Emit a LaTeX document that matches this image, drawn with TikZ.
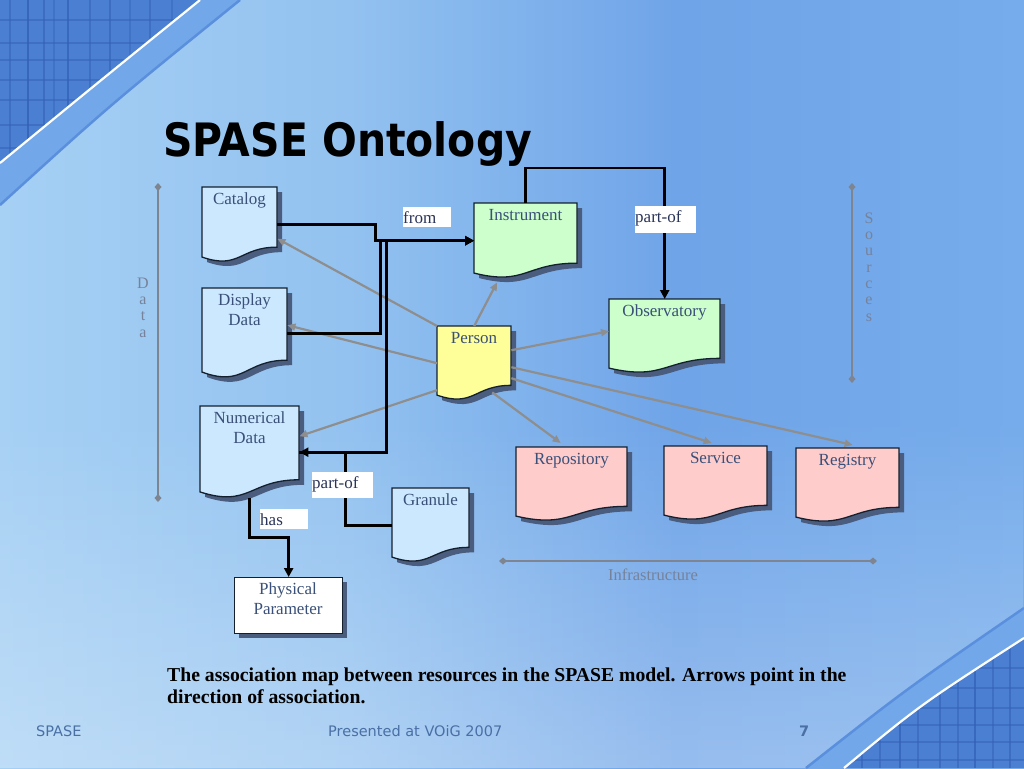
\documentclass[tikz,border=0pt]{standalone}
\usepackage{fontspec}
\usepackage{graphicx}
\setmainfont{Liberation Serif}
\newfontfamily\sansf{DejaVu Sans}
\usetikzlibrary{arrows.meta,calc,fadings}

\definecolor{bgA}{HTML}{A6D0F4}
\definecolor{bgB}{HTML}{93C2F0}
\definecolor{bgC}{HTML}{6FA4E8}
\definecolor{bgD}{HTML}{76ACEB}
\definecolor{gridbg}{HTML}{4A7FD2}
\definecolor{gridln}{HTML}{3361B6}
\definecolor{bandc}{HTML}{72A8EA}
\definecolor{edgec}{HTML}{5A8FDD}
\definecolor{datafill}{HTML}{CCE8FF}
\definecolor{srcfill}{HTML}{CCFFCC}
\definecolor{perfill}{HTML}{FFFF99}
\definecolor{infill}{HTML}{FFCCCC}
\definecolor{txt}{HTML}{3A5078}
\definecolor{lbltxt}{HTML}{2A3358}
\definecolor{gline}{HTML}{8E8E8E}
\definecolor{barc}{HTML}{7E8590}
\definecolor{bartxt}{HTML}{76829A}
\definecolor{footc}{HTML}{4A6FA5}
\definecolor{bordc}{HTML}{14202E}
\definecolor{shadowc}{HTML}{4A5D7E}

\pgfdeclarehorizontalshading{bgshade}{100bp}{color(0bp)=(bgA); color(25bp)=(bgA); color(42bp)=(bgB); color(58bp)=(bgC); color(75bp)=(bgD); color(100bp)=(bgD)}
\tikzfading[name=fadebottom, top color=transparent!100, bottom color=transparent!72]

\tikzset{
 docshadow/.style={fill=shadowc},
 docshape/.style={draw=bordc, line width=1.3pt},
 nodetext/.style={anchor=north, inner sep=0pt, align=center, text=txt, font=\fontsize{17}{20}\selectfont},
 boxnode/.style={anchor=north west, inner sep=0pt},
 conn/.style={line width=2.6pt, black, -{Triangle[length=9pt,width=9pt]}},
 gconn/.style={line width=2.2pt, gline, -{Triangle[length=8pt,width=7pt]}},
 bar/.style={line width=2.6pt, barc, {Diamond[length=8pt,width=7pt]}-{Diamond[length=8pt,width=7pt]}},
 bartext/.style={text=bartxt, font=\fontsize{16}{16.3}\selectfont, inner sep=0pt, align=center},
 lbl/.style={fill=white, anchor=north west, inner xsep=0pt, inner ysep=0pt, text=lbltxt, font=\fontsize{17}{20}\selectfont, align=left, text height=16pt},
 footer/.style={anchor=base west, inner sep=0pt, text=footc, font=\sansf\fontsize{14.5}{16}\selectfont},
 captext/.style={anchor=base west, inner sep=0pt, font=\bfseries\fontsize{19.7}{22}\selectfont},
}

% name, left, top, right, height, fill, text
\newcommand\docnode[7]{%
  \fill[docshadow] (#2+5,#3+5) -- (#4+5,#3+5) -- (#4+5,{#3+5+0.802*#5}) .. controls ({(#2+#4)/2+5},{#3+5+0.802*#5}) and ({(#2+#4)/2+5},{#3+5+1.1075*#5}) .. (#2+5,{#3+5+0.934*#5}) -- cycle;
  \filldraw[docshape, fill=#6] (#2,#3) -- (#4,#3) -- (#4,{#3+0.802*#5}) .. controls ({(#2+#4)/2},{#3+0.802*#5}) and ({(#2+#4)/2},{#3+1.1075*#5}) .. (#2,{#3+0.934*#5}) -- cycle;
  \node[boxnode, minimum width={(#4-#2)*1pt}, minimum height={#5*1pt}] (#1) at (#2,#3) {};
  \node[nodetext] at ({(#2+#4)/2},#3+3) {#7};
}

\begin{document}
\begin{tikzpicture}[x=1pt,y=-1pt]
\useasboundingbox (0,0) rectangle (1024,768);
% background
\shade[shading=bgshade] (0,0) rectangle (1024,768);
\fill[white, path fading=fadebottom] (0,420) rectangle (1024,768);

% top-left corner decoration
\fill[bandc] (200,0) .. controls (95,85) .. (0,163) -- (0,205) .. controls (110,105) .. (240,0) -- cycle;
\begin{scope}
  \clip (0,0) -- (200,0) .. controls (95,85) .. (0,163) -- cycle;
  \fill[gridbg] (0,0) rectangle (240,240);
  \foreach \x/\o in {10/.5, 28/.8, 44/.6, 54/.4, 68/.7, 90/.5, 110/.6, 130/.4, 150/.5, 172/.4}
    \draw[gridln, opacity=\o, line width=2.5pt] (\x,0) -- (\x,240);
  \foreach \y in {20,43,60,80,100,125,148}
    \draw[gridln, opacity=.5, line width=1.5pt] (0,\y) -- (240,\y);
\end{scope}
\draw[white, line width=2.2pt] (0,163) .. controls (95,85) .. (200,0);
\draw[edgec, line width=2.5pt] (0,205) .. controls (110,105) .. (240,0);

% bottom-right corner decoration
\fill[bandc] (806,768) .. controls (905,690) .. (1024,608) -- (1024,638) .. controls (920,705) .. (844,768) -- cycle;
\begin{scope}
  \clip (844,768) .. controls (920,705) .. (1024,638) -- (1024,768) -- cycle;
  \fill[gridbg] (820,600) rectangle (1024,768);
  \foreach \x/\o in {862/.6, 880/.5, 900/.7, 918/.5, 940/.6, 958/.5, 975/.7, 993/.5, 1010/.6}
    \draw[gridln, opacity=\o, line width=2.5pt] (\x,600) -- (\x,768);
  \foreach \y in {668,688,708,725,742,760}
    \draw[gridln, opacity=.5, line width=1.5pt] (820,\y) -- (1024,\y);
\end{scope}
\draw[white, line width=2.2pt] (844,768) .. controls (920,705) .. (1024,638);
\draw[edgec, line width=2.5pt] (806,768) .. controls (905,690) .. (1024,608);

% group bars
\coordinate (d1) at (158,183); \coordinate (d2) at (158,502);
\coordinate (s1) at (852,183); \coordinate (s2) at (852,383);
\coordinate (i1) at (499,561); \coordinate (i2) at (877,561);
\draw[bar] (d1) -- (d2);
\draw[bar] (s1) -- (s2);
\draw[bar] (i1) -- (i2);
\node[bartext, anchor=north] (dlbl) at (143,276.6) {\strut D\\a\\t\\a};
\node[bartext, anchor=north] (slbl) at (869,211.6) {\strut S\\o\\u\\r\\c\\e\\s};
\node[bartext, anchor=base, font=\fontsize{16.5}{18}\selectfont] (ilbl) at (653,580) {Infrastructure};

% resource shapes
\docnode{cat}{202}{187}{277}{75}{datafill}{\strut Catalog}
\docnode{disp}{202}{288}{287}{90}{datafill}{\strut Display\\Data}
\docnode{num}{200}{406}{299}{92}{datafill}{\strut Numerical\\Data}
\docnode{gra}{392}{488}{469}{74}{datafill}{\strut Granule}
\docnode{ins}{474}{203}{577}{75}{srcfill}{\strut Instrument}
\docnode{obs}{609}{299}{720}{74}{srcfill}{\strut Observatory}
\docnode{per}{437}{326}{511}{74}{perfill}{\strut Person}
\docnode{rep}{516}{447}{627}{74}{infill}{\strut Repository}
\docnode{svc}{664}{446}{767}{74}{infill}{\strut Service}
\docnode{reg}{796}{448}{899}{74}{infill}{\strut Registry}

% Physical Parameter (plain box)
\fill[docshadow] (239,582) rectangle (347,638);
\node[boxnode, docshape, fill=white, minimum width=108pt, minimum height=56pt] (phys) at (234,577) {};
\node[nodetext] at (288,580) {\strut Physical\\Parameter};

% grey associations from Person
\draw[gconn] (per.north west) -- ($(cat.east)+(0,14)$);
\draw[gconn] (per.west) -- ($(disp.east)+(0,-8)$);
\draw[gconn] ($(per.west)+(0,27)$) -- ($(num.east)+(0,-16)$);
\draw[gconn] (per.north) -- ($(ins.south west)+(23,4)$);
\draw[gconn] ($(per.east)+(0,-13)$) -- ($(obs.west)+(0,-5)$);
\draw[gconn] ($(per.east)+(0,4)$) -- ($(reg.north)+(5,-3)$);
\draw[gconn] ($(per.east)+(0,15)$) -- ($(svc.north)+(-4,-3)$);
\draw[gconn] ($(per.south)+(18,-8)$) -- ($(rep.north)+(-11,-4)$);

% black associations
\draw[conn] (cat.east) -| ($(cat.east)!.5!(ins.west)$) |- (ins.west);
\draw[conn] (disp.east) -| ($(disp.east)!.5!(ins.west)$) |- (ins.west);
\draw[conn] (num.east) -| ($(num.east)!.5!(ins.west)$) |- (ins.west);
\draw[conn] (gra.west) -| ($(gra.west)!.5!(num.east)$) |- (num.east);
\draw[conn] (num.south) |- ($(num.south)!.5!(phys.north)$) -| (phys.north);
\draw[conn] (ins.north) -- ++(0,-35) -| (obs.north);

% labels
\node[lbl, text width=48pt, text depth=4pt] (lfrom) at (403,207) {from};
\node[lbl, text width=61pt, text depth=11pt] (lpart1) at (635,206) {part-of};
\node[lbl, text width=61pt, text depth=10pt] (lpart2) at (312,472) {part-of};
\node[lbl, text width=48pt, text depth=4pt] (lhas) at (260,509) {has};

% title
\node[anchor=base west, inner sep=0pt, font=\sansf\bfseries\fontsize{46}{50}\selectfont] (title) at (163,156) {\scalebox{0.89}[1]{SPASE Ontology}};

% caption
\node[captext] (cap1) at (167,681) {The association map between resources in the SPASE model. Arrows point in the};
\node[captext] (cap2) at (167,703) {direction of association.};

% footer
\node[footer] (f1) at (36,736) {SPASE};
\node[footer] (f2) at (328,736) {Presented at VOiG 2007};
\node[footer, font=\sansf\bfseries\fontsize{14.5}{16}\selectfont] (f3) at (799,736) {7};
\end{tikzpicture}
\end{document}
